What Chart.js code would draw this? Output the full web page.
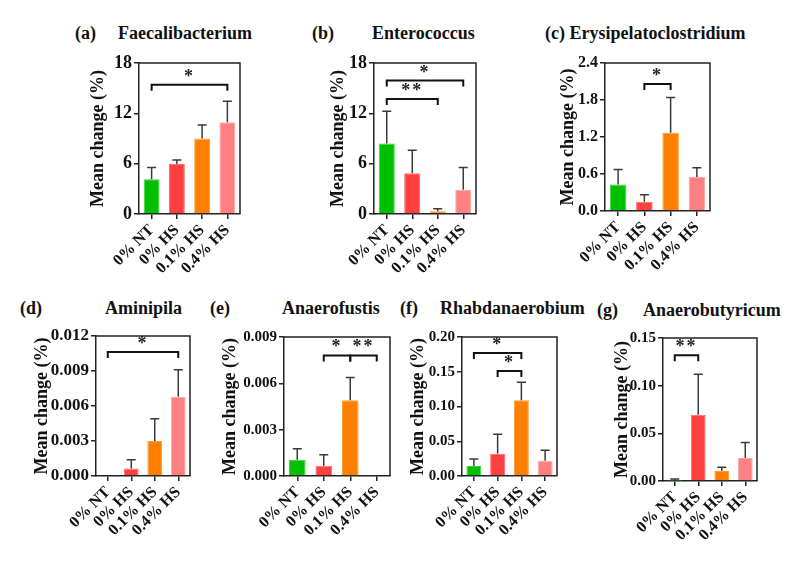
<!DOCTYPE html>
<html>
<head>
<meta charset="utf-8">
<script src="https://cdn.jsdelivr.net/npm/chart.js@4.4.1/dist/chart.umd.min.js"></script>
<style>
body { margin: 0; background: #fff; width: 794px; height: 562px; position: relative; overflow: hidden; font-family: 'Liberation Serif', 'Times New Roman', serif; }
canvas { position: absolute; }
.t { position: absolute; font-weight: bold; font-size: 18px; line-height: 20px; white-space: nowrap; color: #111; }
</style>
</head>
<body>
<script>
const groups = ['0% NT', '0% HS', '0.1% HS', '0.4% HS'];
const fillColors = ['#00c000', '#ff4040', '#ff8000', '#ff8080'];
const edgeColors = ['#3cd23c', '#ff6a6a', '#ff9a33', '#ffa6a6'];

// (a) Faecalibacterium
const faecMean = [4.15, 5.95, 9.0, 10.95];
const faecErr = [1.4, 0.5, 1.6, 2.5];
const faecTicks = [0, 6, 12, 18];
const faecSig = [[0, 3, 15.4, '*']];

// (b) Enterococcus
const enteMean = [8.4, 4.85, 0.32, 2.9];
const enteErr = [3.85, 2.75, 0.3, 2.65];
const enteTicks = [0, 6, 12, 18];
const enteSig = [[0, 3, 15.9, '*'], [0, 2, 13.7, '**']];

// (c) Erysipelatoclostridium
const erysMean = [0.43, 0.15, 1.27, 0.55];
const erysErr = [0.245, 0.115, 0.57, 0.15];
const erysTicks = [0, 0.6, 1.2, 1.8, 2.4];
const erysSig = [[1, 2, 2.06, '*']];

// (d) Aminipila
const aminMean = [0, 0.00065, 0.003, 0.0068];
const aminErr = [0, 0.00075, 0.0019, 0.0023];
const aminTicks = [0, 0.003, 0.006, 0.009, 0.012];
const aminSig = [[0, 3, 0.01063, '*']];

// (e) Anaerofustis
const anfuMean = [0.00106, 0.00066, 0.0049, 0];
const anfuErr = [0.0007, 0.00072, 0.00147, 0];
const anfuTicks = [0, 0.003, 0.006, 0.009];
const anfuSig = [[1, 2, 0.00781, '*'], [2, 3, 0.00781, '**']];

// (f) Rhabdanaerobium
const rhabMean = [0.0145, 0.032, 0.109, 0.022];
const rhabErr = [0.01, 0.028, 0.026, 0.015];
const rhabTicks = [0, 0.05, 0.10, 0.15, 0.20];
const rhabSig = [[0, 2, 0.177, '*'], [1, 2, 0.151, '*']];

// (g) Anaerobutyricum
const anbuMean = [0.0003, 0.0695, 0.0105, 0.024];
const anbuErr = [0.0017, 0.0425, 0.004, 0.0163];
const anbuTicks = [0, 0.05, 0.10, 0.15];
const anbuSig = [[0, 1, 0.1318, '**']];

// panel layout: plot box (L,T,R,B), y-title centre, tick font size, heading spots
const panels = [
  { mean: faecMean, err: faecErr, ticks: faecTicks, dec: 0, sig: faecSig, fs: 18,
    L: 139, T: 63, R: 240, B: 214, titleX: 98, head: [[75, 33, '(a)'], [118, 33, 'Faecalibacterium']] },
  { mean: enteMean, err: enteErr, ticks: enteTicks, dec: 0, sig: enteSig, fs: 18,
    L: 374, T: 63, R: 476, B: 214, titleX: 338, head: [[312, 33, '(b)'], [372, 33, 'Enterococcus']] },
  { mean: erysMean, err: erysErr, ticks: erysTicks, dec: 1, sig: erysSig, fs: 16,
    L: 605, T: 63, R: 710, B: 211, titleX: 568, head: [[545, 33, '(c) Erysipelatoclostridium']] },
  { mean: aminMean, err: aminErr, ticks: aminTicks, dec: 3, sig: aminSig, fs: 17,
    L: 96, T: 336, R: 190, B: 476, titleX: 42, head: [[20, 308, '(d)'], [105, 308, 'Aminipila']] },
  { mean: anfuMean, err: anfuErr, ticks: anfuTicks, dec: 3, sig: anfuSig, fs: 15,
    L: 284, T: 337, R: 390, B: 476, titleX: 230, head: [[210, 308, '(e)'], [282, 308, 'Anaerofustis']] },
  { mean: rhabMean, err: rhabErr, ticks: rhabTicks, dec: 2, sig: rhabSig, fs: 15,
    L: 462, T: 337, R: 557, B: 476, titleX: 418, head: [[400, 308, '(f)'], [440, 308, 'Rhabdanaerobium']] },
  { mean: anbuMean, err: anbuErr, ticks: anbuTicks, dec: 2, sig: anbuSig, fs: 15,
    L: 663, T: 338, R: 757, B: 481, titleX: 622, head: [[597, 310, '(g)'], [643, 310, 'Anaerobutyricum']] }
];

const TOP_PAD = 14, X_H = 75, RIGHT_PAD = 6;

function makeExtras(p) {
  return {
    id: 'extras',
    afterDatasetsDraw(chart) {
      const { ctx, chartArea: a, scales: { x, y } } = chart;
      ctx.save();
      // error bars (upper only)
      ctx.strokeStyle = '#3a3a3a';
      ctx.lineWidth = 1.5;
      p.mean.forEach((m, i) => {
        const e = p.err[i];
        if (!e) return;
        const px = x.getPixelForValue(i);
        const y0 = y.getPixelForValue(m), y1 = y.getPixelForValue(m + e);
        ctx.beginPath();
        ctx.moveTo(px, y0); ctx.lineTo(px, y1);
        ctx.moveTo(px - 4.5, y1); ctx.lineTo(px + 4.5, y1);
        ctx.stroke();
      });
      // top + right side of the frame
      ctx.strokeStyle = '#222';
      ctx.lineWidth = 1.5;
      ctx.beginPath();
      ctx.moveTo(a.left, a.top); ctx.lineTo(a.right, a.top); ctx.lineTo(a.right, a.bottom);
      ctx.stroke();
      // significance brackets
      ctx.strokeStyle = '#111';
      ctx.fillStyle = '#222';
      ctx.lineWidth = 2;
      ctx.font = 'bold 18px "Liberation Serif"';
      ctx.textAlign = 'center';
      ctx.textBaseline = 'alphabetic';
      ctx.letterSpacing = '2px';
      p.sig.forEach(([i, j, v, lab]) => {
        const x1 = x.getPixelForValue(i), x2 = x.getPixelForValue(j), py = y.getPixelForValue(v);
        ctx.beginPath();
        ctx.moveTo(x1, py + 6); ctx.lineTo(x1, py); ctx.lineTo(x2, py); ctx.lineTo(x2, py + 6);
        ctx.stroke();
        ctx.fillText(lab, (x1 + x2) / 2, py - 3);
      });
      ctx.restore();
    }
  };
}

panels.forEach(p => {
  p.head.forEach(([hx, hy, txt]) => {
    const d = document.createElement('div');
    d.className = 't';
    d.style.left = hx + 'px';
    d.style.top = (hy - 10) + 'px';
    d.textContent = txt;
    document.body.appendChild(d);
  });

  const left = p.titleX - 9;
  const yW = p.L - left;
  const w = yW + (p.R - p.L) + RIGHT_PAD;
  const h = TOP_PAD + (p.B - p.T) + X_H;
  const cv = document.createElement('canvas');
  cv.width = w; cv.height = h;
  cv.style.left = left + 'px';
  cv.style.top = (p.T - TOP_PAD) + 'px';
  cv.style.width = w + 'px'; cv.style.height = h + 'px';
  document.body.appendChild(cv);

  new Chart(cv.getContext('2d'), {
    type: 'bar',
    data: {
      labels: groups,
      datasets: [{
        data: p.mean,
        backgroundColor: fillColors,
        borderColor: edgeColors,
        borderWidth: 1,
        barPercentage: 0.7,
        categoryPercentage: 0.9
      }]
    },
    options: {
      responsive: false,
      animation: false,
      devicePixelRatio: 1,
      layout: { padding: { top: TOP_PAD, right: RIGHT_PAD, left: 0, bottom: 0 } },
      plugins: { legend: { display: false }, tooltip: { enabled: false } },
      scales: {
        x: {
          grid: { offset: false, drawOnChartArea: false, drawTicks: true, tickLength: 5, color: '#222', lineWidth: 1.5 },
          border: { display: true, color: '#222', width: 1.5 },
          ticks: { color: '#111', font: { family: 'Liberation Serif', size: 16, weight: 'bold' },
                   minRotation: 45, maxRotation: 45, autoSkip: false, padding: 2 },
          afterFit: s => { s.height = X_H; }
        },
        y: {
          min: p.ticks[0],
          max: p.ticks[p.ticks.length - 1],
          afterBuildTicks: s => { s.ticks = p.ticks.map(v => ({ value: v })); },
          grid: { drawOnChartArea: false, drawTicks: true, tickLength: 5, color: '#222', lineWidth: 1.5 },
          border: { display: true, color: '#222', width: 1.5 },
          ticks: { color: '#111', font: { family: 'Liberation Serif', size: p.fs, weight: 'bold' }, padding: 2,
                   callback: v => Number(v).toFixed(p.dec) },
          title: { display: true, text: 'Mean change (%)', color: '#111', padding: 0,
                   font: { family: 'Liberation Serif', size: 18, weight: 'bold', lineHeight: 1 } },
          afterFit: s => { s.width = yW; }
        }
      }
    },
    plugins: [makeExtras(p)]
  });
});
</script>
</body>
</html>
